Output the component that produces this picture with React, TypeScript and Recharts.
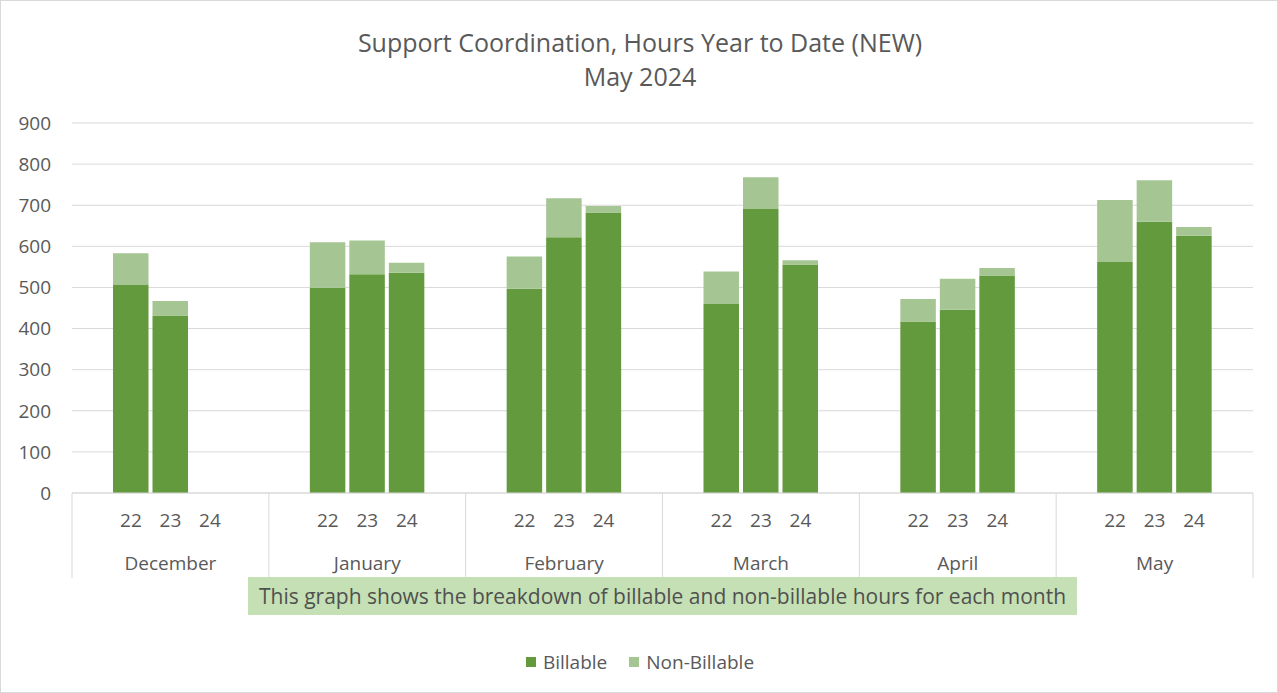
import React from "react";
import { BarChart, Bar, XAxis, YAxis, CartesianGrid } from "recharts";

const TITLE = "Support Coordination, Hours Year to Date (NEW)";
const SUBTITLE = "May 2024";
const NOTE = "This graph shows the breakdown of billable and non-billable hours for each month";
const MONTHS = ["December", "January", "February", "March", "April", "May"];
const YEARS = ["22", "23", "24"];
const BILLABLE_22 = [506, 499, 497, 460, 417, 562];
const NONBILL_22 = [77, 111, 78, 79, 55, 151];
const BILLABLE_23 = [432, 532, 622, 691, 446, 660];
const NONBILL_23 = [35, 82, 95, 77, 75, 101];
const BILLABLE_24 = [null, 536, 682, 556, 529, 626];
const NONBILL_24 = [null, 24, 16, 10, 18, 21];
const Y_TICKS = [0, 100, 200, 300, 400, 500, 600, 700, 800, 900];
const SERIES = ["Billable", "Non-Billable"];

const BILL_COLOR = "#639A3E";
const NON_COLOR = "#A5C593";
const TEXT = "#595959";
const GRID = "#D9D9D9";
const FONT = "'Open Sans', Lato, sans-serif";
const BAR_SIZE = 35.5;
const BAR_GAP = 4;

const data = MONTHS.map((m, i) => ({
  month: m,
  b22: BILLABLE_22[i],
  n22: NONBILL_22[i],
  b23: BILLABLE_23[i],
  n23: NONBILL_23[i],
  b24: BILLABLE_24[i],
  n24: NONBILL_24[i],
}));

const MonthTick = (props: any) => {
  const { x, y, payload, index } = props;
  const half = payload && payload.offset ? payload.offset : 98.33;
  const step = BAR_SIZE + BAR_GAP;
  return (
    <g>
      <line x1={x - half} y1={y} x2={x - half} y2={y + 85} stroke={GRID} strokeWidth={1} />
      {index === MONTHS.length - 1 && (
        <line x1={x + half} y1={y} x2={x + half} y2={y + 85} stroke={GRID} strokeWidth={1} />
      )}
      {YEARS.map((yr, i) => (
        <text
          key={yr}
          x={x + (i - 1) * step}
          y={y + 27}
          textAnchor="middle"
          dominantBaseline="central"
          fill={TEXT}
          fontSize={19}
          fontFamily={FONT}
        >
          {yr}
        </text>
      ))}
      <text
        x={x}
        y={y + 70}
        textAnchor="middle"
        dominantBaseline="central"
        fill={TEXT}
        fontSize={19}
        fontFamily={FONT}
      >
        {payload.value}
      </text>
    </g>
  );
};

export default function App() {
  return (
    <div
      style={{
        position: "absolute",
        left: 0,
        top: 0,
        width: 1278,
        height: 693,
        boxSizing: "border-box",
        border: `1px solid ${GRID}`,
        background: "#fff",
        fontFamily: FONT,
      }}
    >
      <div style={{ position: "absolute", left: 0, top: 0, width: 1278 }}>
        <BarChart
          width={1276}
          height={691}
          data={data}
          margin={{ top: 122, right: 24, left: 0, bottom: 114 }}
          barGap={BAR_GAP}
          barSize={BAR_SIZE}
        >
          <CartesianGrid vertical={false} stroke={GRID} strokeWidth={1} />
          <XAxis
            dataKey="month"
            height={85}
            axisLine={{ stroke: GRID }}
            tickLine={false}
            tickSize={0}
            tickMargin={0}
            interval={0}
            tick={<MonthTick />}
          />
          <YAxis
            width={71}
            domain={[0, 900]}
            ticks={Y_TICKS}
            axisLine={false}
            tickLine={false}
            tickSize={0}
            tickMargin={21}
            tick={{ fill: TEXT, fontSize: 19, fontFamily: FONT }}
          />
          <Bar dataKey="b22" stackId="22" fill={BILL_COLOR} isAnimationActive={false} />
          <Bar dataKey="n22" stackId="22" fill={NON_COLOR} isAnimationActive={false} />
          <Bar dataKey="b23" stackId="23" fill={BILL_COLOR} isAnimationActive={false} />
          <Bar dataKey="n23" stackId="23" fill={NON_COLOR} isAnimationActive={false} />
          <Bar dataKey="b24" stackId="24" fill={BILL_COLOR} isAnimationActive={false} />
          <Bar dataKey="n24" stackId="24" fill={NON_COLOR} isAnimationActive={false} />
        </BarChart>
      </div>
      <div
        style={{
          position: "absolute",
          left: 0,
          top: 24,
          width: 1278,
          textAlign: "center",
          color: TEXT,
          fontSize: 25,
          lineHeight: "34px",
        }}
      >
        <div>{TITLE}</div>
        <div>{SUBTITLE}</div>
      </div>
      <div
        style={{
          position: "absolute",
          left: 247,
          top: 576,
          width: 829,
          height: 38,
          background: "#C5E0B4",
          color: "#505050",
          fontSize: 21,
          lineHeight: "38px",
          textAlign: "center",
          whiteSpace: "nowrap",
        }}
      >
        {NOTE}
      </div>
      <div
        style={{
          position: "absolute",
          left: 0,
          top: 648,
          width: 1278,
          display: "flex",
          justifyContent: "center",
          color: TEXT,
          fontSize: 19,
          lineHeight: "26px",
        }}
      >
        {SERIES.map((s, i) => (
          <div key={s} style={{ display: "flex", alignItems: "center", marginRight: i === 0 ? 22 : 0 }}>
            <span
              style={{
                display: "inline-block",
                width: 10,
                height: 10,
                background: i === 0 ? BILL_COLOR : NON_COLOR,
                marginRight: 7,
              }}
            />
            <span>{s}</span>
          </div>
        ))}
      </div>
    </div>
  );
}
